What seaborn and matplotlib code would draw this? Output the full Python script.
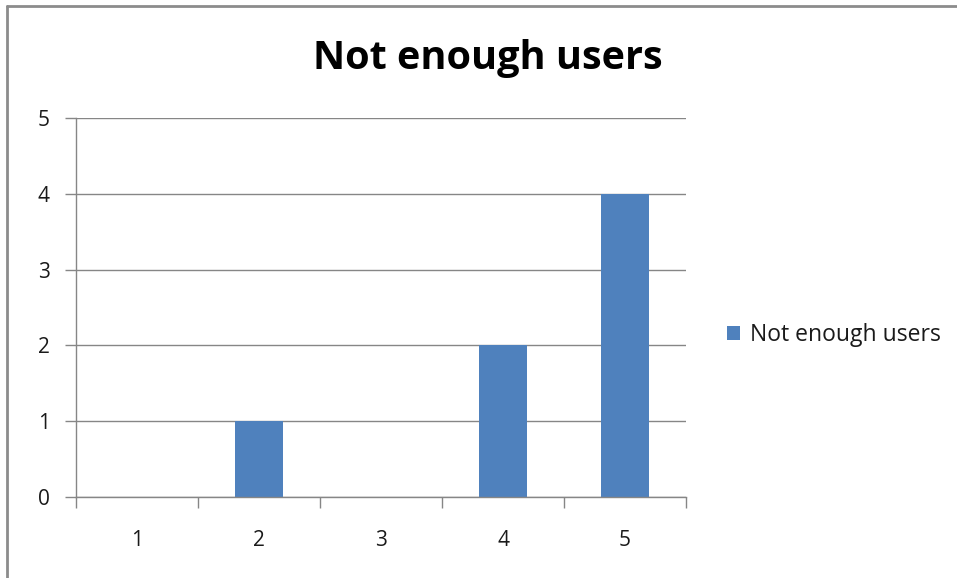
import matplotlib
matplotlib.use("Agg")
import matplotlib.pyplot as plt
from matplotlib.lines import Line2D
from matplotlib.patches import Patch
import seaborn as sns
import pandas as pd
import numpy as np

categories = ["1", "2", "3", "4", "5"]
values = [0, 1, 0, 2, 4]
series_name = "Not enough users"
y_ticks = [0, 1, 2, 3, 4, 5]

sns.set_theme(style="white")
plt.rcParams["font.family"] = ["Open Sans", "DejaVu Sans"]

bar_color = "#4F81BD"
grid_color = "#868686"
text_color = "#1a1a1a"

df = pd.DataFrame({"category": categories, "value": values})

W, H = 957, 578
fig = plt.figure(figsize=(W / 100, H / 100), dpi=100)
ax = fig.add_axes([76 / W, 1 - 497 / H, (686 - 76) / W, (497 - 118) / H])

sns.barplot(data=df, x="category", y="value", color=bar_color, width=0.4,
            saturation=1, ax=ax, edgecolor="none")

ax.set_xlim(-0.5, len(categories) - 0.5)
ax.set_ylim(0, 5)
ax.set_yticks(y_ticks)
ax.set_yticklabels([str(t) for t in y_ticks])
ax.set_xlabel("")
ax.set_ylabel("")

ax.yaxis.grid(True, color=grid_color, linewidth=1)
ax.set_axisbelow(True)
for side in ["top", "right"]:
    ax.spines[side].set_visible(False)
for side in ["left", "bottom"]:
    ax.spines[side].set_color(grid_color)
    ax.spines[side].set_linewidth(1)

# category labels without marks; boundary marks between categories
ax.tick_params(axis="x", which="major", bottom=True, length=0, pad=24, labelsize=15,
               labelcolor=text_color)
ax.set_xticks(np.arange(-0.5, len(categories), 1.0), minor=True)
ax.tick_params(axis="x", which="minor", bottom=True, length=8, width=1, color=grid_color,
               direction="out")
ax.tick_params(axis="y", which="major", left=True, length=8, width=1, color=grid_color,
               direction="out", pad=11, labelsize=15, labelcolor=text_color)

fig.text(488 / W, 1 - 58 / H, "Not enough users", ha="center", va="center",
         fontsize=28.5, fontweight="bold", color="#000000")

handles = [Patch(facecolor=bar_color, edgecolor="none")]
fig.legend(handles, [series_name], loc="center left",
           bbox_to_anchor=(706 / W, 1 - 335 / H), frameon=False,
           fontsize=16.5, handlelength=0.6, handleheight=0.6, handletextpad=0.4,
           labelcolor=text_color)

# outer chart frame
fig.add_artist(Line2D([7 / W, 1.0], [1 - 6 / H, 1 - 6 / H], color="#8c8c8c", linewidth=2,
                      transform=fig.transFigure))
fig.add_artist(Line2D([7 / W, 7 / W], [0.0, 1 - 6 / H], color="#8c8c8c", linewidth=2,
                      transform=fig.transFigure))

fig.savefig("out.png", dpi=100)
